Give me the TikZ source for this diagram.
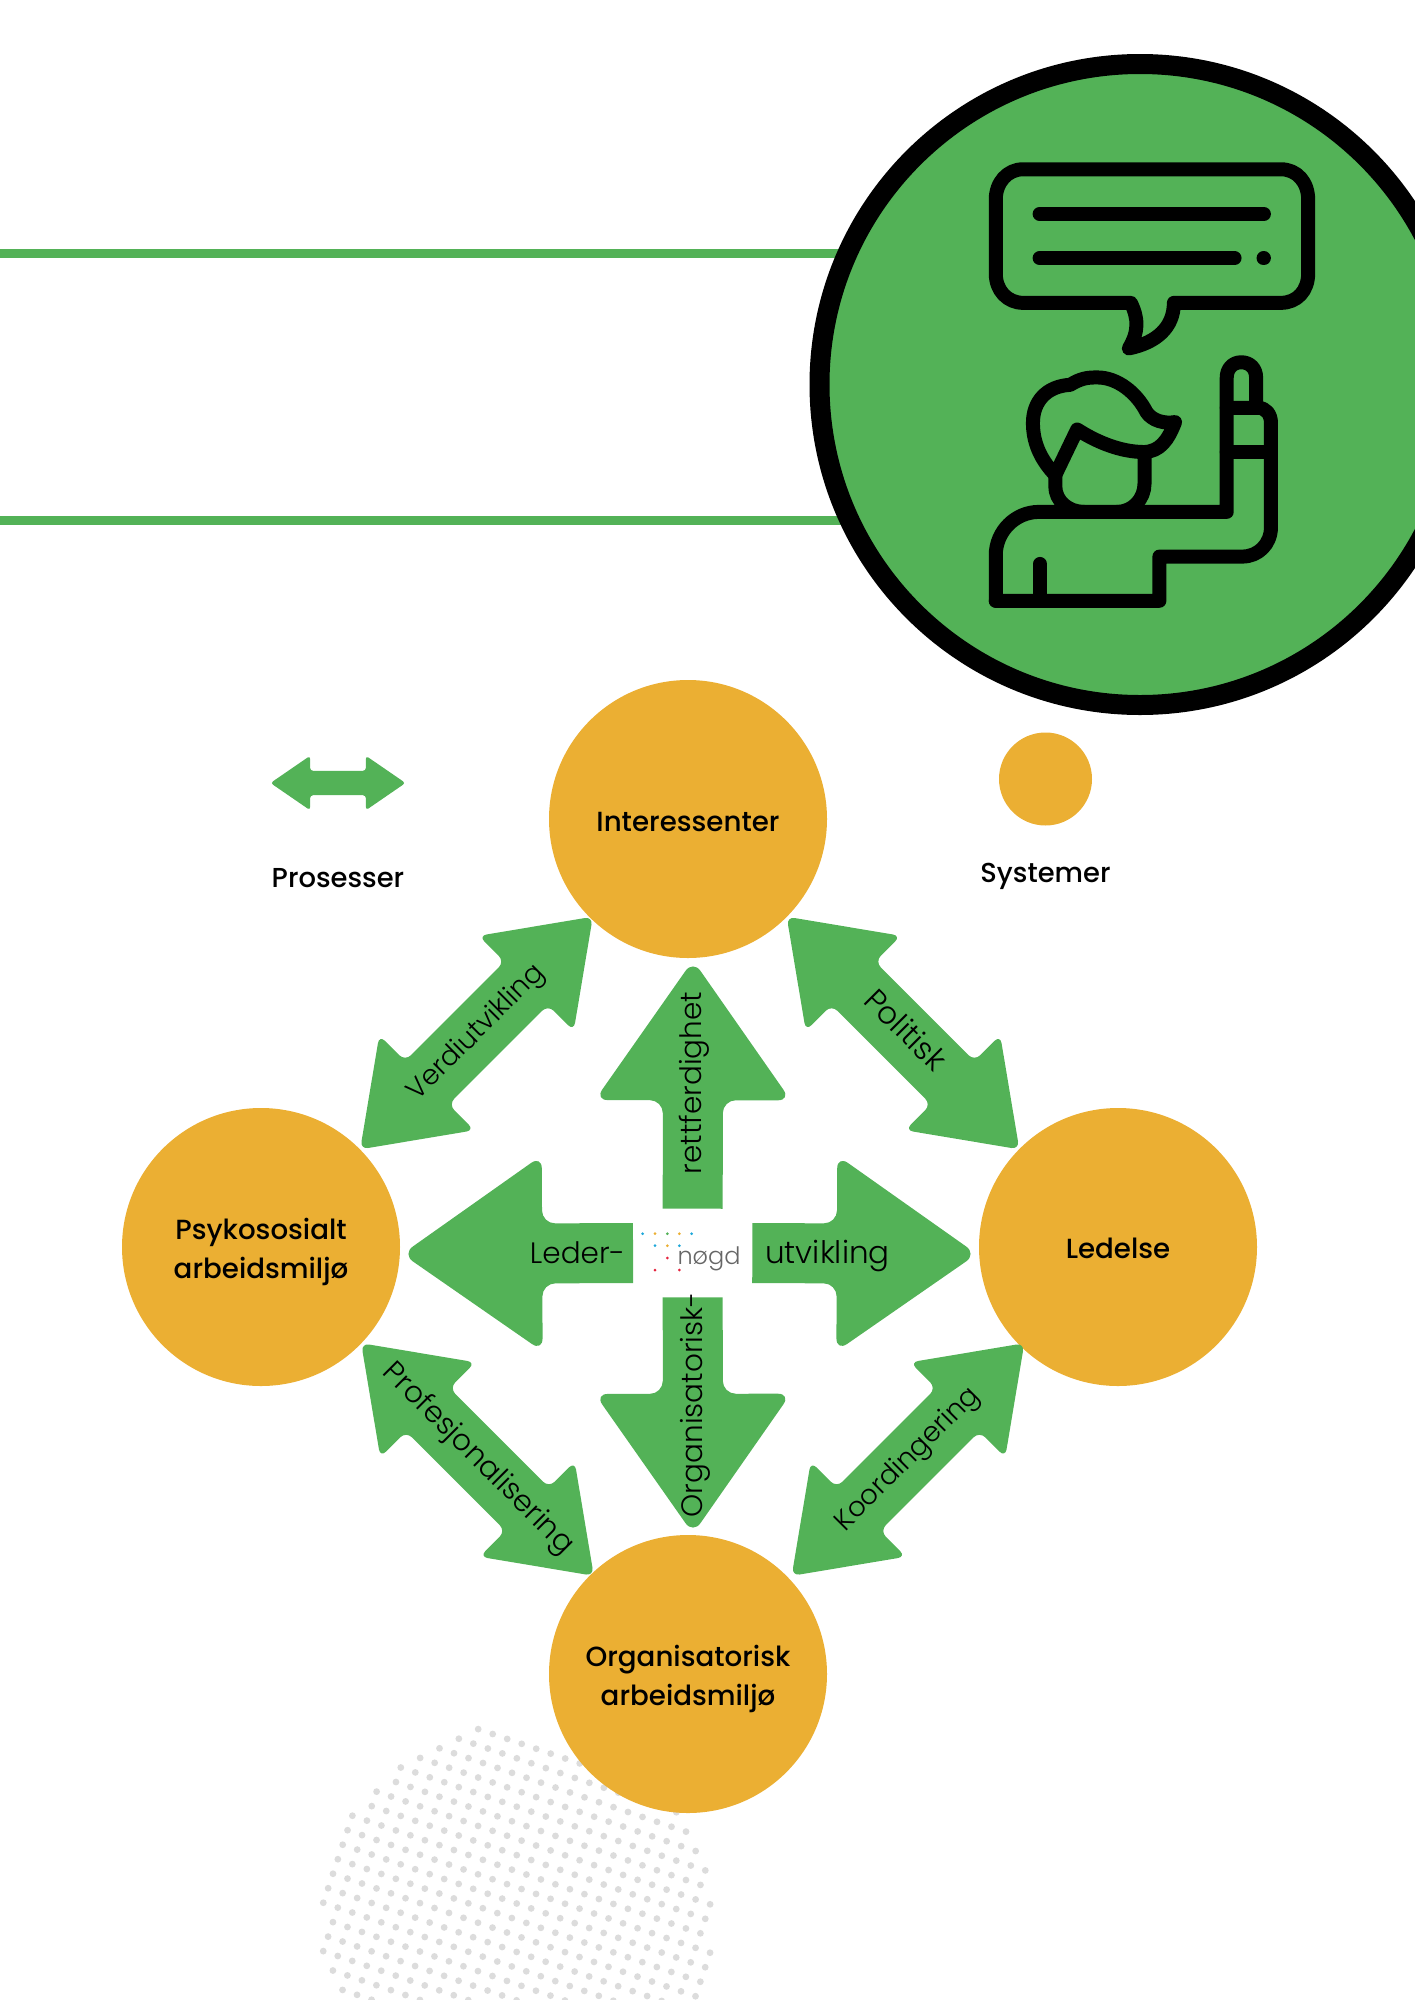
\documentclass[tikz,border=0pt]{standalone}
\usepackage{fontspec}
\setmainfont{Poppins}
\newfontfamily\lightfont{Poppins Light}
\newfontfamily\medfont{Poppins Medium}
\usepackage{tikz}
\usetikzlibrary{calc,positioning,shapes.arrows}
\definecolor{mgreen}{RGB}{83,178,87}
\definecolor{morange}{RGB}{235,175,51}
\definecolor{mdot}{RGB}{220,220,220}
\definecolor{lblue}{RGB}{30,167,217}
\definecolor{lred}{RGB}{229,35,61}
\newcommand{\flowfont}[1]{\lightfont\fontsize{#1}{32}\selectfont}
\newcommand{\sysdrop}[2]{\raisebox{-#1}[\height][\depth]{#2}}
\tikzstyle{system} = [circle,fill=morange,minimum size=278pt,inner sep=0pt,align=center,font=\medfont\fontsize{27.7}{39}\selectfont]
\tikzstyle{legend} = [font=\medfont\fontsize{27.4}{39}\selectfont]
\tikzstyle{flowtext} = [font=\flowfont{29.5},text height=20pt,text depth=6pt,inner sep=0pt]
\tikzstyle{dblflow} = [double arrow,fill=mgreen,rounded corners=8pt,flowtext,font=\flowfont{27.5},double arrow tip angle=71,double arrow head extend=36.5pt,minimum height=329pt,inner xsep=0pt,inner ysep=17.5pt,outer sep=0pt]
\tikzstyle{icon} = [draw=black,line width=14pt,line join=round,line cap=round]
% Arrow from the logo out to a circle, square at the tail
\newcommand{\flowarrow}[2]{
\coordinate (headbase) at ($(#2)!140pt!(#1)$);
\fill[mgreen] ($(#1)!30pt!90:(#2)$) [rounded corners=13pt] -- ($(headbase)!30pt!90:(#2)$) -- ($(headbase)!98pt!90:(#2)$) -- (#2) -- ($(headbase)!98pt!-90:(#2)$) -- ($(headbase)!30pt!-90:(#2)$) [sharp corners] -- ($(#1)!30pt!-90:(#2)$) -- cycle;
}
\begin{document}
\begin{tikzpicture}[x=1pt,y=-1pt]
\useasboundingbox (0,0) rectangle (1414,2000);

% Dotted disc
\foreach \i in {0,...,28}
\foreach \j in {-14,...,14} {
\pgfmathsetmacro{\px}{323.3+14.5*\i+4.85*\j}
\pgfmathsetmacro{\py}{1902.7+4.9*\i-14.5*\j}
\pgfmathtruncatemacro{\inside}{veclen(\px-516.5,\py-1922)<198 ? 1 : 0}
\ifnum\inside=1 \fill[mdot] (\px,\py) circle (3.4pt); \fi
}

% Top lines and large circle
\draw[mgreen,line width=9pt] (0,253) -- (900,253);
\draw[mgreen,line width=9pt] (0,520) -- (900,520);
\node[circle,draw=black,fill=mgreen,line width=20pt,minimum size=641pt,inner sep=0pt,outer sep=0pt] (bigcircle) at (1140,384.5) {};

% Icon
\begin{scope}[shift={(800,50)},x=0.3915pt,y=-0.4337pt]
\draw[icon] (570,275) -- (1228,275) .. controls (1270,275) and (1298,305) .. (1298,345) -- (1298,515) .. controls (1298,555) and (1270,583) .. (1228,583) -- (955,583) .. controls (955,640) and (910,675) .. (840,688) .. controls (865,650) and (865,620) .. (845,583) -- (570,583) .. controls (530,583) and (500,555) .. (500,515) -- (500,345) .. controls (500,305) and (530,275) .. (570,275) -- cycle;
\draw[icon] (612,378) -- (1185,378);
\draw[icon] (612,480) -- (1110,480);
\draw[icon] (1184,480) -- (1185,480);
% Person
\draw[icon] (500,1270) -- (500,1165) .. controls (500,1110) and (550,1065) .. (610,1065) -- (1090,1065) -- (1090,755) .. controls (1090,735) and (1105,720) .. (1127,720) .. controls (1150,720) and (1165,735) .. (1165,755) -- (1165,825);
\draw[icon] (1090,825) -- (1170,825) .. controls (1190,825) and (1203,840) .. (1203,860) -- (1203,1100) .. controls (1203,1140) and (1170,1168) .. (1130,1168) -- (918,1168) -- (918,1270) -- (500,1270);
\draw[icon] (1090,927) -- (1203,927);
\draw[icon] (613,1185) -- (613,1270);
\draw[icon] (652,980) .. controls (610,940) and (595,900) .. (595,860) .. controls (595,810) and (630,775) .. (690,772) .. controls (720,755) and (740,755) .. (760,755) .. controls (810,755) and (860,790) .. (885,835) .. controls (900,855) and (930,862) .. (958,858) .. controls (940,900) and (920,925) .. (880,927) .. controls (820,927) and (760,905) .. (708,875) -- (652,980);
\draw[icon] (652,980) -- (652,1005) .. controls (652,1040) and (685,1065) .. (725,1065);
\draw[icon] (880,927) -- (880,1000) .. controls (880,1035) and (850,1065) .. (810,1065);
\end{scope}

% Legend
\node[double arrow,fill=mgreen,rounded corners=3pt,double arrow tip angle=69,double arrow head extend=15pt,minimum height=135pt,text height=0pt,text depth=0pt,inner xsep=0pt,inner ysep=12pt] (legendarrow) at (338,783) {};
\node[legend] (prosesser) at (338,878) {Prosesser};
\node[circle,fill=morange,minimum size=93pt,inner sep=0pt] (legendcircle) at (1045.5,779) {};
\node[legend] (systemer) at (1045.5,876.5) {Systemer};

% Systems
\node[system] (inter) at (688,819) {\sysdrop{2.5pt}{Interessenter}};
\node[system] (psyko) at (261,1247) {\sysdrop{5pt}{Psykososialt}\\\sysdrop{5pt}{arbeidsmiljø}};
\node[system] (ledelse) at (1118,1247) {\sysdrop{1.5pt}{Ledelse}};
\node[system] (org) at (688,1674) {\sysdrop{5pt}{Organisatorisk}\\\sysdrop{5pt}{arbeidsmiljø}};

% Diagonal processes
\node[dblflow,rotate=45] (verdi) at ($(psyko)!0.5!(inter)+(2,0)$) {\makebox[0pt]{Verdiutvikling}};
\node[dblflow,rotate=-45,font=\flowfont{31}] (politisk) at ($(inter)!0.5!(ledelse)$) {\makebox[0pt]{Politisk}};
\node[dblflow,rotate=-45,font=\flowfont{29.5}] (prof) at ($(psyko)!0.5!(org)+(3,-1)$) {\makebox[0pt]{Profesjonalisering}};
\node[dblflow,rotate=45] (koord) at ($(org)!0.5!(ledelse)+(5,-1)$) {\makebox[0pt]{Koordingering}};

% Logo
\node[minimum width=119.3pt,minimum height=88.6pt,inner sep=0pt,outer sep=0pt] (logo) at (692.7,1253) {};
\foreach \dotx/\doty/\dotcol in {248/251/lblue,285/251/morange,322/251/mgreen,358/251/morange,395/251/lblue,285/287/lblue,322/287/morange,358/287/lblue,322/324/lred,285/360/lred,358/360/lred}
\fill[\dotcol] ({560+\dotx/3},{1150+\doty/3}) circle (1.5pt);
\node[font=\flowfont{24},text=black!60,inner sep=0pt] (nogd) at (709,1259) {nøgd};

% Centre arrows
\coordinate (uptip) at ($(inter.south)+(5,2)$);
\coordinate (downtip) at ($(org.north)+(5,-1)$);
\coordinate (lefttip) at ($(psyko.east)+(2,7)$);
\coordinate (righttip) at ($(ledelse.west)+(-2,7)$);
\flowarrow{logo.north}{uptip}
\flowarrow{logo.south}{downtip}
\flowarrow{logo.west}{lefttip}
\flowarrow{logo.east}{righttip}
\node[flowtext,rotate=90] (rett) at (694.5,1083) {rettferdighet};
\node[flowtext,rotate=90] (orgtext) at (695,1404.5) {Organisatorisk-};
\node[flowtext] (leder) at (577.5,1256) {Leder-};
\node[flowtext,font=\flowfont{31}] (utv) at (827.5,1256) {utvikling};
\end{tikzpicture}
\end{document}
